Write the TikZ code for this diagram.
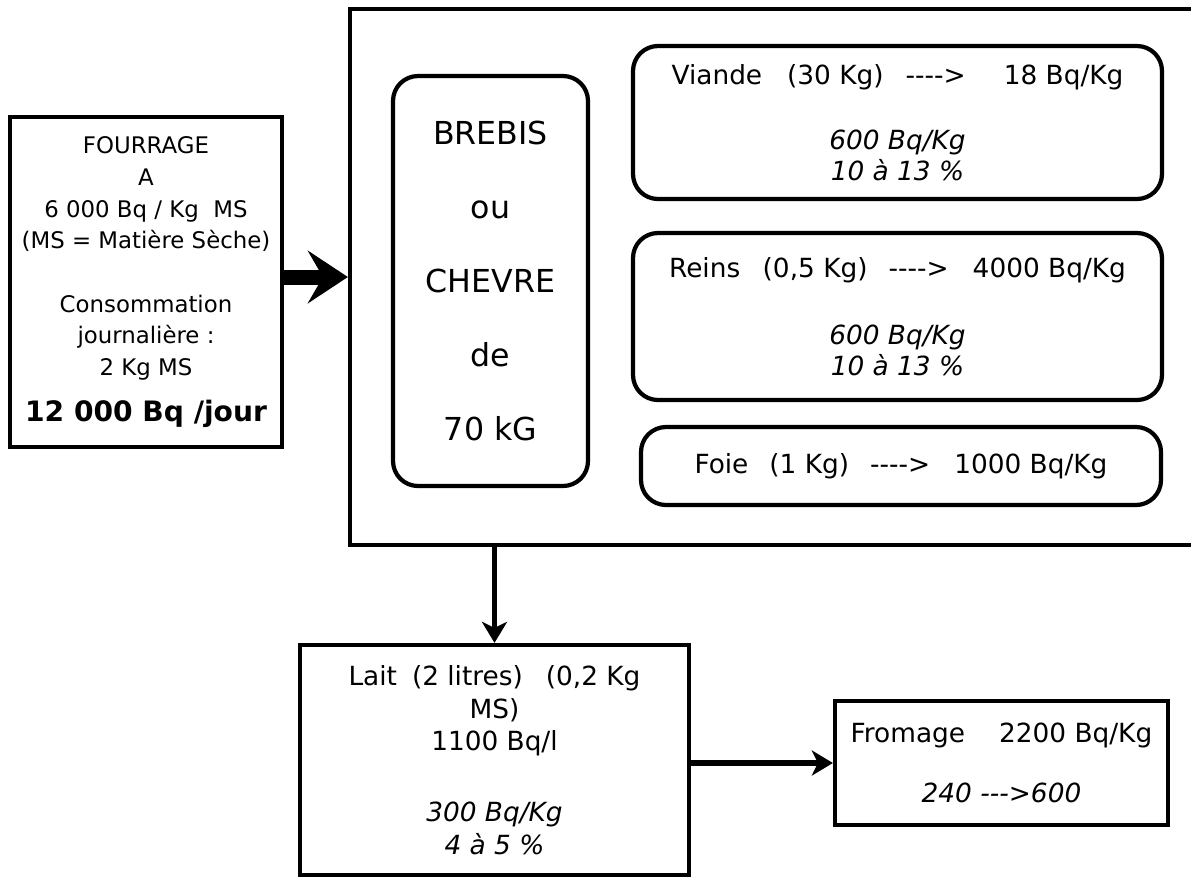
\documentclass[tikz,border=0pt]{standalone}
\usepackage{fontspec}
\setmainfont{DejaVu Sans}
\usepackage{tikz}
\usetikzlibrary{arrows.meta}

\newcommand{\fleche}{-\kern0pt-\kern0pt-\kern0pt-\kern0pt>}

\begin{document}
\begin{tikzpicture}[
    box/.style={rectangle, draw, line width=2.4pt, align=center, inner sep=0pt,
                font=\fontsize{15}{17.5}\selectfont},
    rbox/.style={box, rounded corners=0.5cm},
    bigarrow/.style={-{Stealth[length=0.8cm, width=1.05cm, inset=0.3cm]}, line width=0.3cm},
    arrow/.style={-{Stealth[length=0.42cm, width=0.5cm, inset=0.12cm]}, line width=0.11cm}]
  \useasboundingbox (0,0) rectangle (23.82,-17.54);
  \node[box, minimum width=17.4cm, minimum height=10.72cm] (animal) at (15.70,-5.54) {};
  \node[box, minimum width=5.44cm, minimum height=6.6cm, font=\fontsize{13}{18}\selectfont] (fourrage) at (2.92,-5.64)
    {FOURRAGE\\A\\6 000 Bq / Kg\ \ MS\\(MS = Matière Sèche)\\[18pt]Consommation\\journalière :\\2 Kg MS\\[8pt]{\fontsize{16}{20}\selectfont\bfseries 12 000 Bq /jour}};
  \node[rbox, minimum width=3.9cm, minimum height=8.2cm, font=\fontsize{18}{42}\selectfont] (brebis) at (9.81,-5.62)
    {BREBIS\\ou\\CHEVRE\\de\\70 kG};
  \node[rbox, minimum width=10.58cm, minimum height=3.06cm] (viande) at (17.95,-2.45)
    {Viande\hspace{0.5cm}(30 Kg)\hspace{0.44cm}\fleche\hspace{0.76cm}18 Bq/Kg\\[20pt]\textit{600 Bq/Kg}\\\textit{10 à 13 \%}};
  \node[rbox, minimum width=10.58cm, minimum height=3.34cm] (reins) at (17.95,-6.33)
    {Reins\hspace{0.45cm}(0,5 Kg)\hspace{0.42cm}\fleche\hspace{0.48cm}4000 Bq/Kg\\[21pt]\textit{600 Bq/Kg}\\\textit{10 à 13 \%}};
  \node[rbox, minimum width=10.4cm, minimum height=1.56cm] (foie) at (18.02,-9.32)
    {Foie\hspace{0.42cm}(1 Kg)\hspace{0.42cm}\fleche\hspace{0.48cm}1000 Bq/Kg};
  \node[box, minimum width=7.78cm, minimum height=4.6cm, font=\fontsize{15}{18.5}\selectfont] (lait) at (9.89,-15.20)
    {Lait\hspace{0.3cm}(2 litres)\hspace{0.46cm}(0,2 Kg\\MS)\\1100 Bq/l\\[22pt]\textit{300 Bq/Kg}\\\textit{4 à 5 \%}};
  \node[box, minimum width=6.66cm, minimum height=2.48cm] (fromage) at (20.03,-15.26)
    {Fromage\hspace{0.68cm}2200 Bq/Kg\\[17pt]\textit{240 -\kern0pt-\kern0pt->600}};
  \draw[bigarrow] (fourrage.east |- animal.west) -- (animal.west);
  \draw[arrow] (lait.north |- animal.south) -- (lait.north);
  \draw[arrow] (lait.east |- fromage.west) -- (fromage.west);
\end{tikzpicture}
\end{document}
